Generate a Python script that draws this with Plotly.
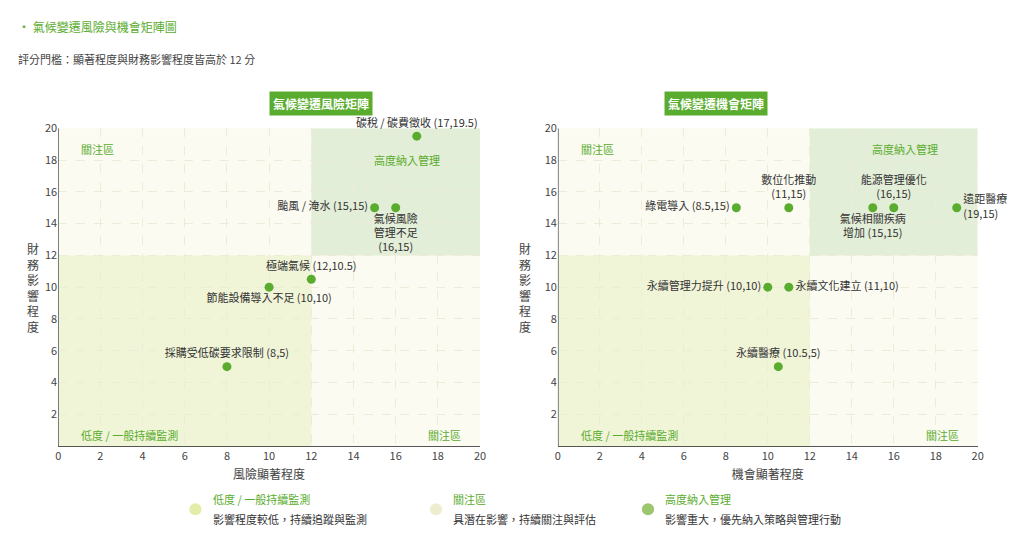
import plotly.graph_objects as go

risk_names = ["碳稅 / 碳費徵收 (17,19.5)", "颱風 / 淹水 (15,15)", "氣候風險<br>管理不足<br>(16,15)",
              "極端氣候 (12,10.5)", "節能設備導入不足 (10,10)", "採購受低碳要求限制 (8,5)"]
risk_x = [17, 15, 16, 12, 10, 8]
risk_y = [19.5, 15, 15, 10.5, 10, 5]
risk_pos = ["top center", "middle left", "bottom center", "top center", "bottom center", "top center"]

opp_names = ["綠電導入 (8.5,15)", "數位化推動<br>(11,15)", "氣候相關疾病<br>增加 (15,15)", "能源管理優化<br>(16,15)",
             "遠距醫療<br>(19,15)", "永續管理力提升 (10,10)", "永續文化建立 (11,10)", "永續醫療 (10.5,5)"]
opp_x = [8.5, 11, 15, 16, 19, 10, 11, 10.5]
opp_y = [15, 15, 15, 15, 15, 10, 10, 5]
opp_pos = ["middle left", "top center", "bottom center", "top center", "middle right", "middle left", "middle right", "top center"]

ticks = [0, 2, 4, 6, 8, 10, 12, 14, 16, 18, 20]
GREEN = "#5aac2e"
FONT = "Noto Sans CJK TC"

fig = go.Figure()
fig.add_trace(go.Scatter(x=risk_x, y=risk_y, mode="markers+text", text=risk_names, textposition=risk_pos,
                         marker=dict(color=GREEN, size=9), textfont=dict(size=11, color="#333"),
                         xaxis="x", yaxis="y", showlegend=False, cliponaxis=False))
fig.add_trace(go.Scatter(x=opp_x, y=opp_y, mode="markers+text", text=opp_names, textposition=opp_pos,
                         marker=dict(color=GREEN, size=9), textfont=dict(size=11, color="#333"),
                         xaxis="x2", yaxis="y2", showlegend=False, cliponaxis=False))

shapes = []
for xr, yr in (("x", "y"), ("x2", "y2")):
    for (x0, x1, y0, y1, c) in [(0, 20, 0, 20, "#fbfbf2"), (0, 12, 0, 12, "#f1f5d8"), (12, 20, 12, 20, "#e3eed8")]:
        shapes.append(dict(type="rect", xref=xr, yref=yr, x0=x0, x1=x1, y0=y0, y1=y1,
                           fillcolor=c, line=dict(width=0), layer="below"))

ax = dict(range=[0, 20], tickvals=ticks, showgrid=True, gridcolor="#ececd8", griddash="dash", automargin=False,
          showline=True, linecolor="#555", zeroline=False, tickfont=dict(size=11, color="#444"), ticks="")
yd = [0.202, 0.781]
fig.update_layout(
    width=1024, height=549, margin=dict(l=0, r=0, t=0, b=0, autoexpand=False),
    paper_bgcolor="white", plot_bgcolor="rgba(0,0,0,0)", font=dict(family=FONT),
    xaxis=dict(ax, domain=[0.049, 0.461], anchor="y", title=dict(text="風險顯著程度", standoff=8, font=dict(size=12, color="#444"))),
    yaxis=dict(ax, domain=yd, anchor="x", showline=False, tickvals=ticks[1:]),
    xaxis2=dict(ax, domain=[0.537, 0.947], anchor="y2", title=dict(text="機會顯著程度", standoff=8, font=dict(size=12, color="#444"))),
    yaxis2=dict(ax, domain=yd, anchor="x2", showline=False, tickvals=ticks[1:]),
    shapes=shapes,
)
for xr, yr in (("x", "y"), ("x2", "y2")):
    fig.add_shape(type="line", xref=xr, yref=yr, x0=0, x1=0, y0=0, y1=20, line=dict(color="#555", width=1.5))

ann = []
def a(text, x, y, xref="paper", yref="paper", **kw):
    d = dict(text=text, x=x, y=y, xref=xref, yref=yref, showarrow=False)
    d.update(kw)
    ann.append(d)

a("・ 氣候變遷風險與機會矩陣圖", 0.008, 0.985, xanchor="left", yanchor="top", font=dict(size=12, color=GREEN))
a("評分門檻：顯著程度與財務影響程度皆高於 12 分", 0.008, 0.925, xanchor="left", yanchor="top", font=dict(size=11, color="#444"))
for xc, t in ((0.255, "<b>氣候變遷風險矩陣</b>"), (0.742, "<b>氣候變遷機會矩陣</b>")):
    a(t, xc, 0.849, font=dict(size=12, color="white"), bgcolor=GREEN, borderpad=3)
for xc in (0.017, 0.505):
    a("財<br>務<br>影<br>響<br>程<br>度", xc, 0.49, font=dict(size=12, color="#444"),
      )
for xr, yr in (("x", "y"), ("x2", "y2")):
    a("關注區", 1, 18.7, xr, yr, xanchor="left", font=dict(size=11, color=GREEN))
    a("高度納入管理", 18.2, 18.7 if xr == "x2" else 18, xr, yr, xanchor="right", font=dict(size=11, color=GREEN))
    a("低度 / 一般持續監測", 1, 0.7, xr, yr, xanchor="left", font=dict(size=11, color=GREEN))
    a("關注區", 19.2, 0.7, xr, yr, xanchor="right", font=dict(size=11, color=GREEN))

legend = [("低度 / 一般持續監測", "影響程度較低，持續追蹤與監測", "#e3eca8", 0.183),
          ("關注區", "具潛在影響，持續關注與評估", "#efedcf", 0.418),
          ("高度納入管理", "影響重大，優先納入策略與管理行動", "#9cc76e", 0.625)]
for t1, t2, c, xp in legend:
    fig.add_shape(type="circle", xref="paper", yref="paper", x0=xp - 0.006, x1=xp + 0.006,
                  y0=0.076, y1=0.098, fillcolor=c, line=dict(width=0))
    a(t1, xp + 0.015, 0.087, xanchor="left", font=dict(size=11, color=GREEN))
    a(t2, xp + 0.015, 0.051, xanchor="left", font=dict(size=11, color="#333"))
fig.update_layout(annotations=ann)
fig.write_html("out.html")
